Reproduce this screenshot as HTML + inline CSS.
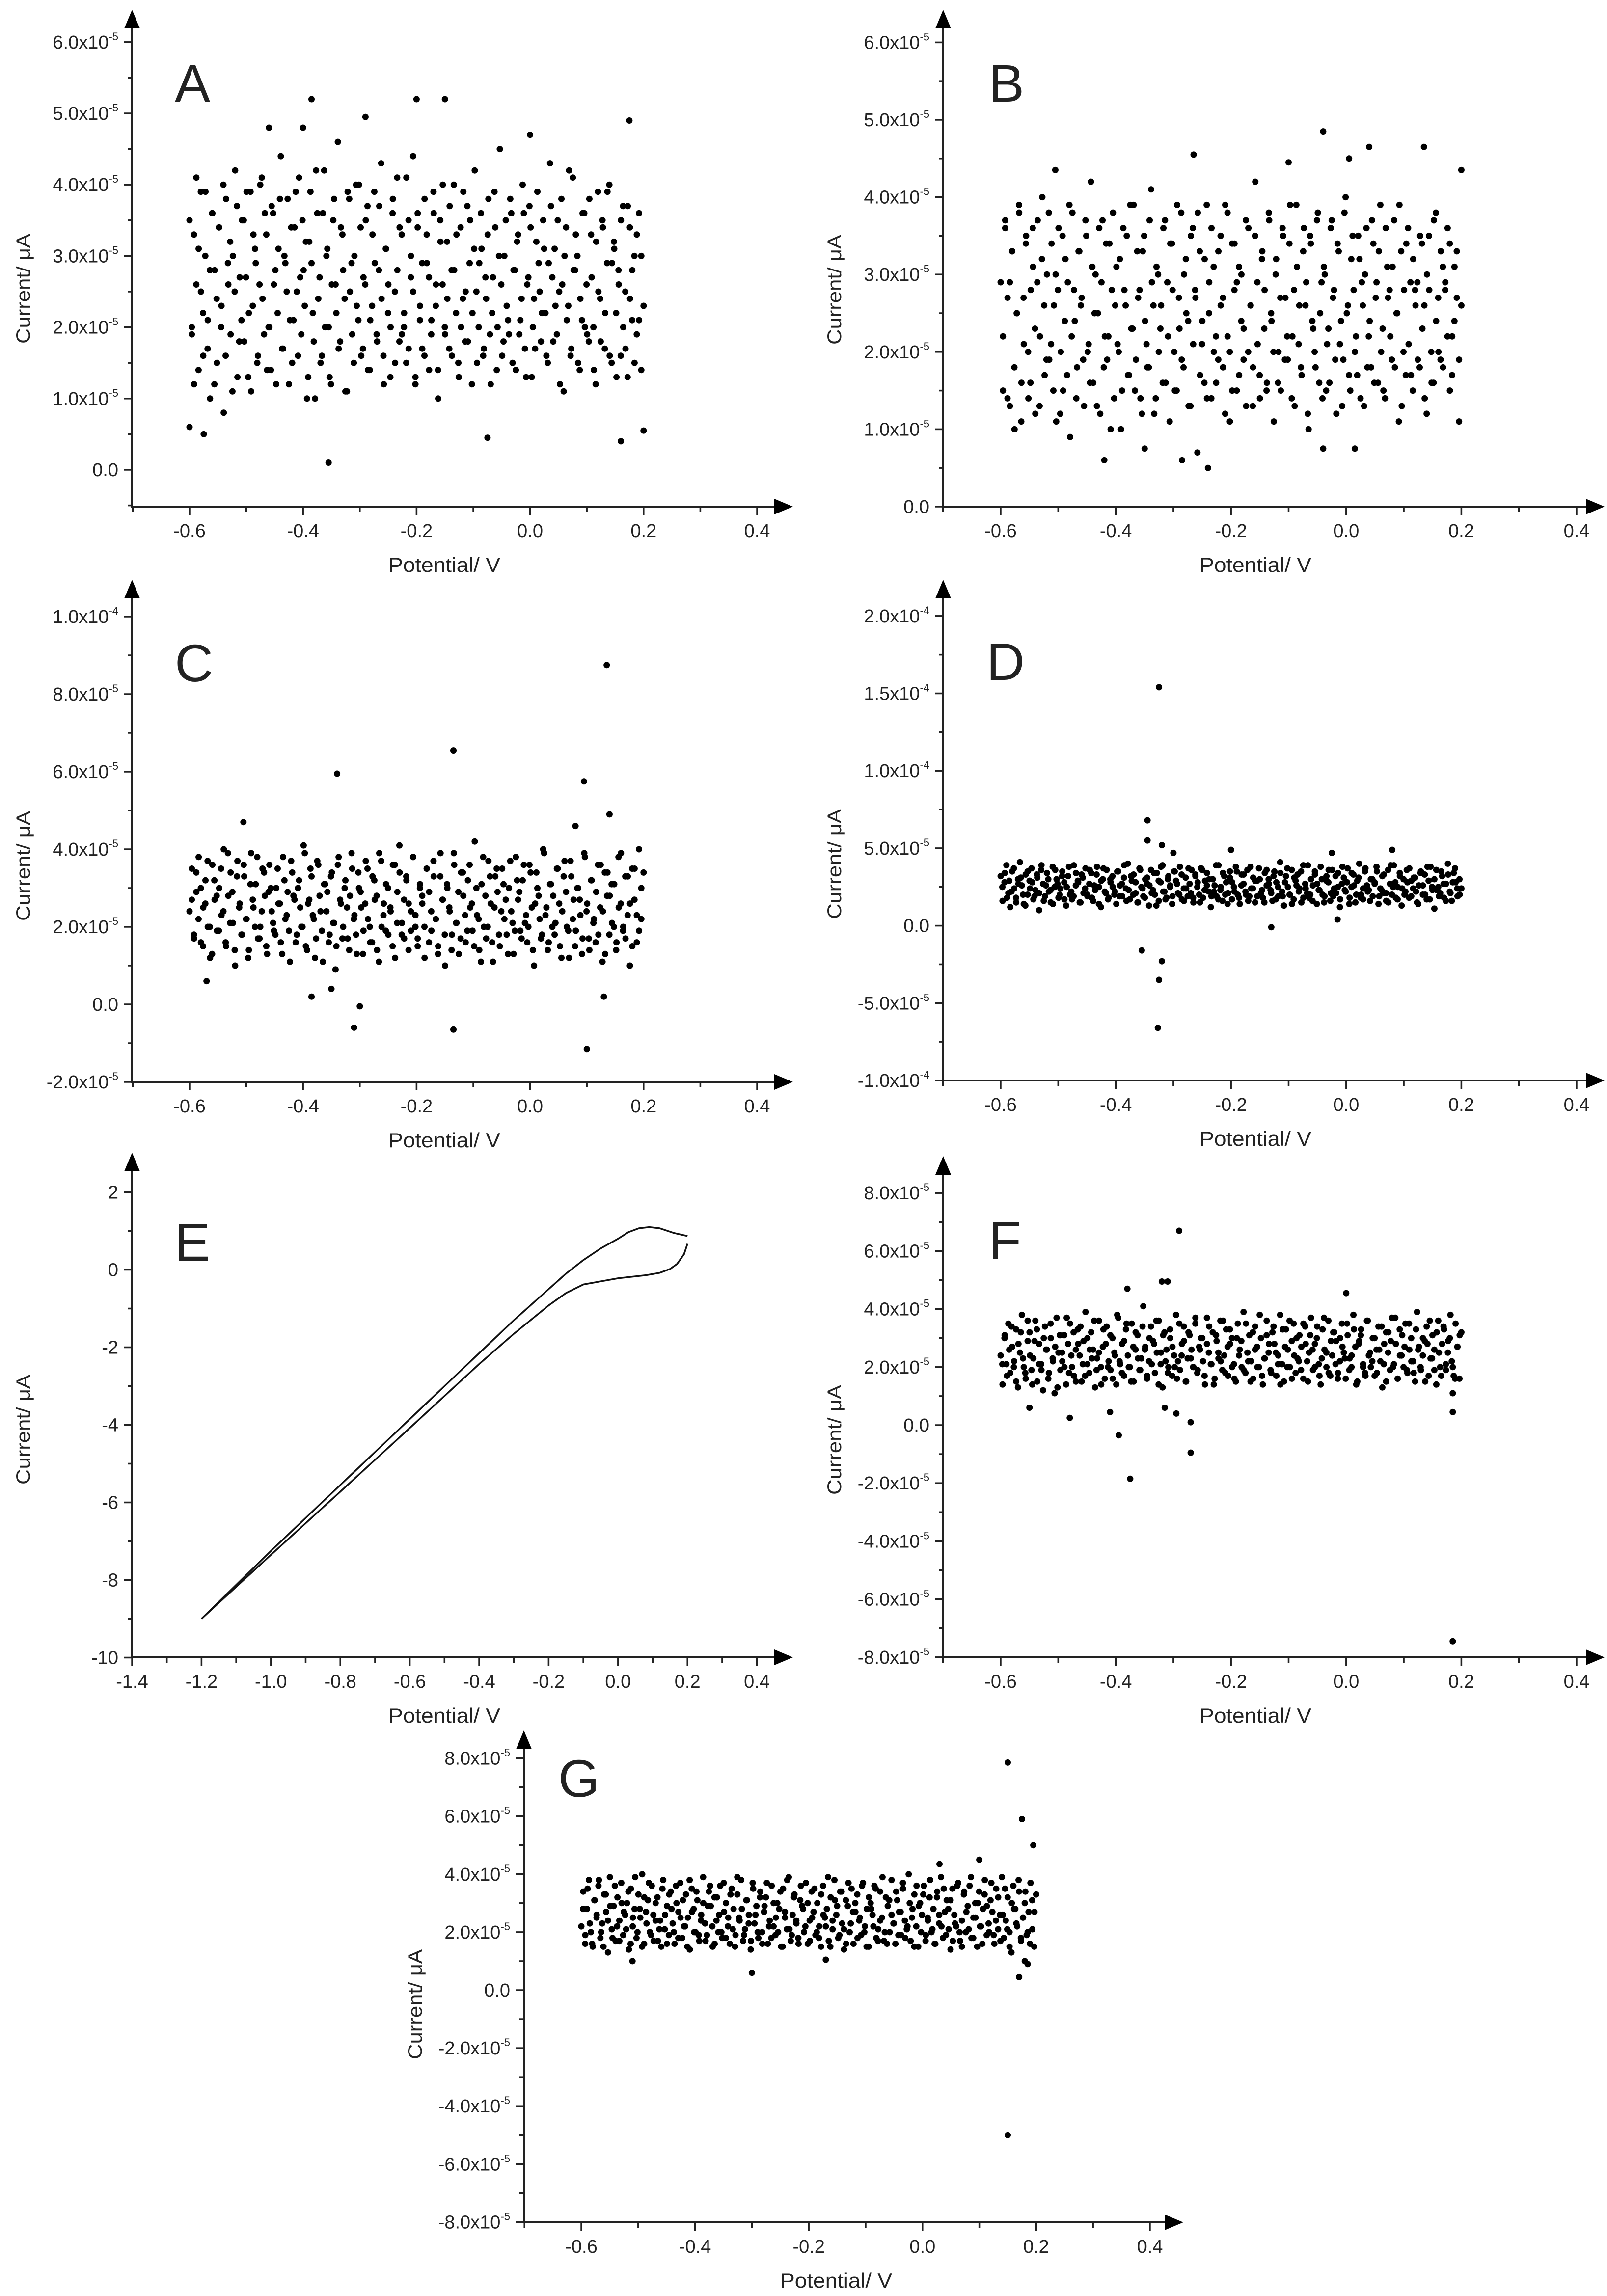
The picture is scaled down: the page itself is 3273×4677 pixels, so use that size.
<!DOCTYPE html>
<html><head><meta charset="utf-8"><title>Voltammetry panels A–G</title>
<style>
html,body{margin:0;padding:0;background:#fff;}
svg{display:block;}
text{font-family:"Liberation Sans",Arial,sans-serif;fill:#222;}
</style></head>
<body>
<svg id="fig" xmlns="http://www.w3.org/2000/svg" width="3273" height="4677" viewBox="0 0 3273 4677"></svg>
<script>
// ---------- DATA (current in units of 1e-5 µA, potential in V) ----------
const sweepA = [-0.6, 0.2];
const sweepA2 = [-0.596, 0.196];
const currentA = [3.5,2.0,1.2,4.1,3.1,2.5,1.6,3.9,2.1,1.0,3.6,2.8,1.5,3.4,2.3,0.8,3.8,2.6,1.9,3.0,
4.2,1.3,2.7,3.5,1.8,3.9,2.2,1.1,3.3,2.9,1.6,4.0,2.4,3.6,1.4,2.0,3.7,2.6,1.2,3.1,
4.4,1.7,2.9,3.8,2.1,1.5,3.4,2.5,4.1,1.9,2.8,3.2,1.3,3.9,2.2,1.0,3.6,2.7,1.6,4.2,
3.0,2.0,1.2,3.5,2.6,4.6,1.8,3.3,2.4,1.1,3.8,2.9,1.5,4.0,2.1,3.4,1.7,2.6,3.7,1.4,
2.3,3.9,1.9,2.8,4.3,1.6,3.1,2.2,1.3,3.6,2.5,4.1,1.8,3.3,2.0,1.5,3.5,2.7,4.4,1.2,
3.4,2.3,1.7,3.8,2.9,1.4,2.1,3.6,2.6,1.0,3.2,4.0,1.9,2.4,3.7,1.6,2.8,3.3,1.3,2.0,
3.9,2.5,1.8,3.5,2.2,4.2,1.5,2.9,3.1,1.7,2.4,3.8,1.2,2.7,3.4,2.0,4.5,1.6,3.0,2.3,
1.9,3.6,2.8,1.4,3.3,2.1,4.0,1.7,2.6,3.7,1.3,2.4,3.2,2.9,1.8,3.5,2.2,1.5,4.3,2.7,
3.1,1.9,2.5,3.8,1.1,3.4,2.3,1.6,4.1,2.8,3.0,1.4,2.1,3.6,2.6,1.8,3.3,2.0,1.2,3.9,
2.4,3.5,1.7,2.9,4.0,1.5,3.2,2.2,2.8,1.6,3.7,2.5,1.3,3.4,2.1,3.0,1.9,3.6,1.4,2.3];
const currentA2 = [1.9,3.3,2.6,1.4,3.9,2.2,3.0,1.7,2.8,3.6,1.2,2.4,3.4,2.0,4.0,1.6,2.9,3.2,1.1,2.5,
3.7,1.8,2.1,3.5,2.7,1.3,3.9,2.3,3.1,1.5,2.6,4.1,1.9,3.3,2.0,1.4,3.6,2.8,2.2,3.8,
1.7,3.0,2.5,1.2,3.4,2.1,3.9,1.6,2.7,3.5,2.3,1.0,3.2,2.9,1.8,4.2,2.4,1.5,3.6,2.0,
3.1,1.3,2.6,3.8,2.2,1.7,3.4,2.8,1.1,3.9,2.5,1.9,3.0,2.3,4.0,1.6,2.7,3.5,1.4,2.1,
3.3,2.9,1.8,3.7,2.4,1.2,3.1,2.6,2.0,3.8,1.5,2.8,3.4,1.9,2.2,4.1,1.7,3.0,2.5,1.3,
3.6,2.1,2.9,1.6,3.3,2.7,1.9,3.9,2.3,1.4,3.5,2.6,2.0,3.2,1.7,2.8,4.0,2.2,1.5,3.4,
2.4,1.8,3.7,2.9,1.2,3.1,2.5,2.0,3.6,1.6,2.7,3.3,1.9,2.2,3.9,1.4,3.0,2.6,1.8,3.5,
2.1,3.8,1.5,2.8,3.2,1.9,2.4,3.6,1.3,2.7,3.4,2.0,1.7,3.9,2.5,2.2,3.1,1.6,2.9,3.7,
1.8,2.3,3.5,1.2,2.6,3.0,2.1,4.2,1.7,2.8,3.3,1.5,2.4,3.6,2.0,1.9,3.8,2.7,1.4,3.2,
2.5,1.8,3.4,2.2,3.9,1.6,2.9,3.1,1.3,2.6,3.5,2.0,1.7,3.7,2.4,2.8,1.5,3.3,2.1,3.0];
const outlierXA = [-0.355,-0.385,-0.2,-0.15,0.175,-0.46,-0.4,-0.29,0.0,-0.575,-0.6,-0.075,0.16,0.2];
const outlierYA = [0.1,5.2,5.2,5.2,4.9,4.8,4.8,4.95,4.7,0.5,0.6,0.45,0.4,0.55];

const sweepB = [-0.6, 0.2];
const sweepB2 = [-0.596, 0.196];
const currentB = [2.9,1.5,3.6,2.7,1.3,3.3,1.0,2.5,3.8,1.6,2.1,3.5,1.4,2.8,3.1,1.2,3.7,2.2,4.0,1.7,
3.0,1.9,3.4,2.6,1.1,3.6,2.0,1.5,3.2,2.9,0.9,3.8,2.4,1.8,3.3,2.7,1.3,3.5,2.1,4.2,
1.6,3.0,2.5,1.2,3.7,2.2,1.9,3.4,2.8,1.4,3.1,2.0,1.0,3.6,2.6,1.7,3.9,2.3,1.5,3.3,
2.8,1.2,3.5,2.1,1.8,4.1,2.6,1.4,3.0,2.3,1.6,3.7,2.9,1.1,3.4,2.0,1.5,2.7,3.8,1.8,
3.2,2.4,1.3,3.6,2.8,0.7,3.3,2.1,1.6,3.9,2.5,1.4,3.1,2.2,1.9,3.5,2.7,1.2,3.8,2.0,
1.5,3.4,2.9,1.7,3.0,2.3,1.3,3.6,2.6,1.8,4.2,2.1,1.4,3.3,2.8,1.6,3.7,2.4,1.1,3.2,
2.0,1.5,3.5,2.7,1.9,3.9,2.2,1.3,3.1,2.6,1.7,3.6,2.9,1.0,3.4,2.3,1.8,3.8,2.5,1.4,
3.0,2.1,1.6,3.7,2.8,1.2,3.3,2.4,1.9,4.0,2.6,1.5,3.5,2.0,1.7,3.2,2.9,1.3,3.6,2.2,
1.8,3.4,2.7,1.6,3.9,2.3,1.4,3.1,2.8,1.9,3.7,2.5,1.1,3.3,2.0,1.7,3.6,2.9,1.5,2.8,
2.9,1.8,3.4,2.6,1.2,3.5,2.0,1.6,3.8,2.7,1.9,3.1,2.8,2.2,3.4,1.7,2.4,3.3,1.1,2.6];
const currentB2 = [2.2,3.7,1.4,2.9,3.3,1.8,2.5,3.9,1.1,2.7,3.4,2.0,1.6,3.6,2.3,2.9,1.3,3.2,2.6,1.9,
3.8,2.1,1.5,3.0,2.8,1.2,3.5,2.4,1.7,3.9,2.2,2.8,1.4,3.3,2.6,1.9,3.7,2.0,1.6,3.1,
2.5,1.3,3.6,2.9,1.8,3.4,2.2,1.0,3.8,2.6,2.1,3.2,1.5,2.8,3.5,1.7,2.3,3.9,1.9,2.7,
1.4,3.3,2.4,1.8,3.7,2.9,1.2,3.1,2.0,2.6,3.6,1.6,2.2,3.4,2.8,1.5,3.9,2.3,1.9,3.0,
2.5,1.3,3.5,2.1,2.7,3.8,1.7,2.4,3.2,1.4,2.9,3.6,2.0,1.6,3.3,2.6,1.8,3.9,2.2,1.1,
3.4,2.8,1.5,3.1,2.4,1.9,3.7,2.0,2.6,1.3,3.5,2.9,1.7,3.2,2.3,1.5,3.8,2.5,2.0,3.0,
1.6,2.7,3.6,1.9,2.2,3.4,1.4,2.8,3.9,2.1,1.8,3.3,2.6,1.2,3.5,2.4,2.0,3.7,1.6,2.9,
3.1,1.5,2.3,3.6,2.7,1.9,3.4,2.1,1.3,3.8,2.5,1.7,3.2,2.8,2.2,3.5,1.4,2.6,3.0,1.8,
2.4,3.7,1.6,2.9,3.3,2.0,1.5,3.6,2.7,2.2,3.1,1.8,2.5,3.9,1.3,2.8,3.4,2.1,1.7,3.2,
2.6,1.9,3.5,2.3,1.4,3.0,2.8,1.6,3.7,2.4,2.0,3.3,1.8,2.9,3.6,1.5,2.2,3.1,2.7,1.9];
const outlierXB = [-0.04,0.04,0.135,0.005,-0.265,-0.1,-0.505,0.2,-0.42,-0.285,-0.24,-0.04,0.015,-0.35];
const outlierYB = [4.85,4.65,4.65,4.5,4.55,4.45,4.35,4.35,0.6,0.6,0.5,0.75,0.75,0.75];

const sweepC = [-0.6, 0.2];
const sweepC2 = [-0.596, 0.196];
const currentC = [2.4,3.5,1.7,2.9,3.8,1.6,2.5,3.2,2.0,1.2,3.6,2.7,1.9,3.0,2.3,4.0,1.5,2.8,3.4,2.1,
1.0,3.7,2.6,1.8,3.3,2.2,1.4,3.9,2.5,3.1,1.7,2.0,3.5,2.8,1.3,3.6,2.4,1.9,3.0,2.6,
1.6,3.8,2.2,2.9,1.1,3.4,2.7,1.8,3.2,2.0,4.1,1.5,2.6,3.5,2.3,1.2,3.7,2.8,1.9,3.1,
2.4,1.6,3.3,2.1,0.9,3.6,2.7,1.7,3.0,2.5,1.4,3.9,2.2,1.8,3.4,2.9,1.3,2.6,3.5,2.0,
1.6,3.2,2.8,1.1,3.7,2.3,1.9,3.0,2.5,1.5,3.6,2.1,4.1,1.8,2.7,3.3,1.4,2.4,3.8,2.0,
1.7,3.1,2.6,1.2,3.5,2.9,1.9,3.3,2.2,1.5,3.9,2.7,1.0,3.0,2.4,1.8,3.6,2.1,1.3,3.4,
2.8,1.6,3.2,2.5,1.9,4.2,2.3,1.4,3.1,2.0,1.7,3.7,2.6,1.1,3.3,2.9,1.5,3.5,2.2,1.8,
3.0,2.4,1.3,3.8,2.7,1.9,3.2,2.1,1.6,3.6,2.5,1.0,3.4,2.8,1.7,4.0,2.3,1.4,3.1,2.0,
1.8,3.5,2.6,1.2,3.3,2.9,1.9,3.7,2.2,1.5,3.0,2.7,1.3,3.9,2.4,1.7,3.2,2.1,1.6,3.6,
2.5,1.1,3.4,2.8,1.8,3.1,2.0,1.4,3.8,2.6,1.9,3.3,2.3,1.0,3.5,2.7,1.6,4.0,2.2,3.4];
const currentC2 = [2.7,1.8,3.4,2.2,3.0,1.5,2.6,3.7,2.0,1.3,3.2,2.8,1.9,3.5,2.4,1.6,3.9,2.1,2.9,1.4,
3.3,2.5,1.8,3.6,2.2,1.2,3.1,2.7,2.0,3.8,1.7,2.4,3.4,1.5,2.9,3.0,2.1,1.8,3.5,2.6,
1.3,3.2,2.3,1.9,3.7,2.8,1.6,3.0,2.5,2.0,3.9,1.4,2.7,3.3,2.2,1.7,3.6,2.4,1.1,3.1,
2.9,1.8,3.4,2.1,1.5,3.8,2.6,2.0,3.2,1.7,2.8,3.5,2.3,1.3,3.0,2.5,1.9,3.7,2.2,1.6,
3.3,2.7,1.4,3.9,2.0,2.6,3.1,1.8,2.4,3.6,1.2,2.9,3.4,2.1,1.7,3.2,2.6,1.9,3.8,2.3,
1.5,3.0,2.8,2.0,3.5,1.6,2.4,3.7,2.2,1.3,3.3,2.7,1.8,3.1,2.5,1.4,3.9,2.1,2.9,1.7,
3.4,2.3,1.9,3.6,2.6,1.5,3.0,2.2,1.1,3.8,2.8,2.0,3.3,1.6,2.5,3.5,1.8,2.4,3.1,2.7,
1.3,3.7,2.1,1.9,3.2,2.9,1.7,3.6,2.3,2.0,3.4,1.4,2.6,3.0,2.2,1.8,3.9,2.5,1.6,3.1,
2.8,2.1,3.5,1.5,2.4,3.7,2.0,1.2,3.3,2.7,1.9,3.0,2.3,1.7,3.8,2.6,1.4,3.2,2.2,2.9,
1.8,3.6,2.4,1.3,3.4,2.8,2.1,3.1,1.6,2.5,3.9,2.0,1.7,3.3,2.6,1.5,3.5,2.3,1.9,3.0];
const outlierXC = [0.135,-0.135,-0.34,0.095,0.14,-0.31,-0.135,0.1,-0.3,-0.385,0.13,-0.505,-0.57,-0.35,0.08];
const outlierYC = [8.75,6.55,5.95,5.75,4.9,-0.6,-0.65,-1.15,-0.05,0.2,0.2,4.7,0.6,0.4,4.6];

const sweepD = [-0.6, 0.2];
const sweepD2 = [-0.597, 0.197];
const currentD = [3.2,1.6,2.8,3.9,2.1,1.2,3.5,2.4,1.8,3.0,4.1,2.6,1.4,3.3,2.0,2.9,3.7,1.7,2.3,3.1,
1.0,3.6,2.7,1.9,3.4,2.2,1.5,3.8,2.5,3.0,1.8,2.4,3.5,2.8,1.3,3.2,2.0,1.7,3.9,2.6,
2.9,1.5,3.3,2.1,3.7,1.9,2.7,3.4,1.6,2.3,3.8,2.5,1.2,3.0,2.2,3.6,1.8,2.8,3.2,2.0,
1.4,3.5,2.6,1.9,3.1,2.4,4.0,1.7,2.9,3.3,2.1,1.5,3.7,2.5,1.9,3.0,2.7,1.3,3.6,2.3,
2.0,3.4,1.6,2.8,3.9,2.2,1.8,3.2,2.6,1.4,3.5,2.9,2.1,3.8,1.7,2.4,3.1,1.9,2.7,3.6,
1.5,3.3,2.5,2.0,3.7,1.8,2.9,3.4,2.2,1.2,3.0,2.6,1.9,3.9,2.3,1.6,3.2,2.8,2.1,3.5,
1.7,2.5,3.8,2.0,1.4,3.3,2.7,2.2,3.6,1.9,2.4,3.1,1.5,2.9,3.7,2.1,1.8,3.4,2.6,3.0,
2.3,1.6,3.5,2.8,1.9,4.1,2.2,1.3,3.2,2.5,2.0,3.6,1.7,2.9,3.3,2.4,1.5,3.9,2.7,2.1,
1.8,3.0,2.6,3.5,1.4,2.3,3.8,2.0,1.9,3.2,2.8,1.6,3.6,2.4,2.1,3.4,1.2,2.7,3.1,2.2,
3.7,1.8,2.5,3.3,1.5,2.9,4.0,2.0,1.7,3.5,2.6,2.3,3.0,1.9,2.8,3.8,1.4,2.4,3.2,2.1,
1.6,3.6,2.7,2.0,3.9,1.8,2.5,3.4,1.3,3.0,2.2,2.8,3.7,1.9,2.4,3.1,1.5,2.6,3.5,2.0,
3.3,1.7,2.9,3.8,2.3,1.1,3.6,2.5,2.1,3.2,1.8,2.7,4.0,2.2,1.6,3.4,2.8,1.9,3.0,2.4];
const currentD2 = [2.5,3.4,1.8,2.9,2.2,3.7,1.5,2.7,3.1,2.0,1.3,3.5,2.4,2.8,1.9,3.3,2.1,3.9,1.6,2.6,
3.0,2.3,1.4,3.6,2.7,2.0,3.2,1.7,2.5,3.8,2.2,1.9,3.4,2.8,1.5,3.1,2.4,2.0,3.6,1.8,
2.6,3.3,1.4,2.9,3.7,2.1,1.7,3.0,2.5,2.2,3.5,1.9,2.7,3.9,1.6,2.3,3.2,2.0,2.8,1.5,
3.6,2.4,1.8,3.1,2.6,2.1,3.4,1.3,2.9,3.8,2.2,1.7,3.0,2.5,1.9,3.5,2.7,2.0,3.3,1.6,
2.4,3.7,2.1,1.8,3.2,2.8,1.5,3.6,2.3,2.6,3.0,1.9,2.2,3.9,1.7,2.5,3.4,2.0,1.4,3.1,
2.8,2.2,3.5,1.8,2.6,3.3,2.0,1.6,3.8,2.4,2.9,1.9,3.0,2.3,1.5,3.6,2.7,2.1,3.2,1.7,
2.5,3.4,1.9,2.8,3.7,2.0,1.4,3.1,2.6,2.2,3.5,1.8,2.4,3.9,2.0,1.6,3.3,2.7,2.3,3.0,
1.5,2.9,3.6,2.1,1.9,3.2,2.5,1.7,3.8,2.3,2.8,1.4,3.4,2.6,2.0,3.1,1.8,2.4,3.7,2.2,
1.6,3.0,2.7,3.5,1.9,2.3,3.3,2.1,1.5,3.9,2.5,2.8,1.7,3.2,2.4,2.0,3.6,1.8,2.9,3.1,
2.2,1.4,3.4,2.6,2.0,3.8,1.7,2.5,3.0,2.3,1.9,3.5,2.7,1.6,3.3,2.1,2.8,3.7,2.4,2.0];
const outlierXD = [-0.325,-0.345,-0.345,-0.32,-0.355,-0.32,-0.325,-0.327,-0.13,-0.3,-0.2,-0.025,0.08,-0.015];
const outlierYD = [15.4,6.8,5.5,5.2,-1.6,-2.3,-3.5,-6.6,-0.1,4.7,4.9,4.7,4.9,0.4];

const potentialE_fwd = [-1.2,-1.0,-0.8,-0.6,-0.4,-0.3,-0.2,-0.15,-0.1,-0.05,0.0,0.03,0.06,0.09,0.12,0.16,0.2];
const currentE_fwd   = [-9.0,-7.25,-5.55,-3.85,-2.15,-1.3,-0.5,-0.1,0.25,0.55,0.8,0.97,1.07,1.1,1.07,0.95,0.87];
const potentialE_rev = [0.2,0.19,0.17,0.15,0.12,0.08,0.0,-0.05,-0.1,-0.15,-0.2,-0.3,-0.4,-0.6,-0.8,-1.0,-1.2];
const currentE_rev   = [0.67,0.4,0.15,0.02,-0.08,-0.14,-0.22,-0.3,-0.38,-0.6,-0.92,-1.65,-2.43,-4.08,-5.72,-7.35,-9.0];

const sweepF = [-0.6, 0.2];
const sweepF2 = [-0.597, 0.197];
const currentF = [2.4,1.4,3.0,2.1,3.5,1.8,2.7,2.2,3.3,1.3,2.5,3.8,2.0,1.6,2.9,3.2,1.9,2.3,3.6,1.5,
2.8,2.1,1.2,3.4,2.6,1.8,3.0,2.3,1.1,3.7,2.5,1.9,2.2,3.1,1.4,2.8,3.5,2.0,1.7,2.6,
3.3,2.4,1.5,2.9,3.9,2.1,1.8,3.2,2.6,1.3,2.3,3.6,2.0,2.7,1.6,3.4,2.2,1.9,3.0,2.5,
1.4,3.7,2.1,2.8,1.7,3.3,2.4,2.0,3.5,1.5,2.6,3.1,1.9,2.3,4.1,2.7,1.6,2.2,3.4,2.9,
1.8,2.5,3.6,2.1,1.3,3.2,2.6,2.0,3.0,1.7,2.4,3.8,2.2,1.9,2.8,3.4,1.5,2.3,3.1,2.6,
2.0,3.5,1.8,2.7,3.0,2.2,1.4,3.7,2.5,2.1,3.2,1.6,2.9,2.3,3.6,1.9,2.4,3.3,1.7,2.8,
3.0,2.1,1.5,3.5,2.6,2.0,3.9,1.8,2.5,3.1,2.2,1.6,3.4,2.7,2.0,3.0,1.4,2.3,3.6,2.5,
1.9,3.2,2.8,1.7,2.4,3.8,2.1,1.5,3.3,2.6,2.0,2.9,3.5,1.8,2.3,3.1,2.7,1.6,3.4,2.2,
2.5,3.7,1.9,2.8,3.0,2.1,1.4,3.3,2.6,2.0,3.6,1.7,2.4,3.2,2.9,1.8,2.2,3.5,2.5,1.6,
3.1,2.3,2.0,3.8,2.7,1.5,2.9,3.3,2.1,1.8,3.6,2.4,2.0,3.0,1.7,2.6,3.4,2.2,1.3,2.8,
3.2,2.5,1.9,3.7,2.1,2.8,1.6,3.3,2.4,2.0,3.5,1.8,2.6,3.0,2.2,1.5,3.9,2.7,1.9,2.4,
2.9,3.4,1.7,2.3,3.1,2.6,1.4,3.6,2.0,2.8,3.3,1.9,2.5,3.0,2.2,1.7,3.5,2.7,1.6,3.2];
const currentF2 = [2.1,3.1,1.7,2.6,3.4,2.0,1.5,2.8,3.2,2.3,1.8,3.6,2.4,1.4,2.9,3.3,2.1,1.9,3.0,2.6,
1.6,3.5,2.2,2.7,1.3,3.1,2.5,2.0,3.7,1.8,2.4,3.2,1.5,2.8,3.4,2.1,1.7,3.0,2.6,2.3,
3.6,1.9,2.5,1.4,3.3,2.8,2.0,3.1,1.6,2.4,3.8,2.2,1.8,2.9,3.5,2.0,1.5,2.7,3.2,2.3,
1.9,3.4,2.6,1.7,3.0,2.1,2.8,3.6,1.4,2.5,3.1,2.2,1.8,3.3,2.7,2.0,1.6,3.5,2.4,2.9,
1.5,3.2,2.3,2.0,3.7,1.9,2.6,3.0,1.7,2.8,3.4,2.1,1.4,3.1,2.5,2.2,3.6,1.8,2.7,3.3,
2.0,1.6,3.0,2.4,2.9,1.9,3.5,2.2,1.5,3.2,2.6,2.0,3.8,1.7,2.3,3.1,2.8,1.8,3.4,2.5,
2.1,1.4,3.3,2.7,2.0,3.6,1.6,2.4,3.0,2.2,1.9,3.5,2.8,1.5,3.1,2.6,2.0,3.4,1.7,2.3,
3.7,2.5,1.8,2.9,3.2,2.1,1.6,3.0,2.7,2.3,3.5,1.9,2.4,3.3,1.4,2.8,3.1,2.0,1.7,3.6,
2.5,2.2,3.0,1.8,2.6,3.4,2.1,1.5,3.2,2.9,2.0,3.7,1.6,2.4,3.1,2.7,1.9,3.5,2.2,1.8,
3.3,2.6,2.0,3.0,1.5,2.8,3.6,2.3,1.9,3.2,2.5,1.7,3.4,2.1,2.9,3.8,2.0,1.6,2.7,3.1];
const outlierXF = [-0.29,-0.32,-0.31,-0.375,-0.27,-0.395,0.185,0.185,-0.41,-0.48,-0.315,-0.295,-0.27,-0.38,0.0,-0.55,0.185];
const outlierYF = [6.7,4.95,4.95,-1.85,-0.95,-0.35,-7.45,0.45,0.45,0.25,0.6,0.4,0.1,4.7,4.55,0.6,1.1];

const sweepG = [-0.6, 0.2];
const sweepG2 = [-0.597, 0.197];
const currentG = [2.2,3.4,1.6,2.8,3.8,2.0,1.5,3.1,2.5,3.6,1.8,2.3,3.3,2.7,1.3,3.9,2.1,2.9,1.7,3.2,
2.4,3.7,1.9,2.6,3.0,1.4,3.5,2.2,2.8,1.8,3.3,2.5,4.0,1.6,2.7,3.1,2.0,3.6,1.7,2.4,
3.2,2.1,1.5,3.8,2.6,2.9,1.9,3.4,2.3,1.6,3.0,2.7,3.7,1.8,2.2,3.3,2.5,1.4,3.5,2.8,
2.0,3.1,1.7,2.6,3.9,2.3,1.9,3.4,2.9,1.5,3.2,2.4,2.0,3.6,1.8,2.7,3.0,2.2,1.6,3.5,
2.8,1.9,3.3,2.5,3.8,1.7,2.1,3.1,2.6,1.4,3.7,2.3,2.9,1.8,3.4,2.0,2.7,3.2,1.6,2.4,
3.6,2.2,1.9,3.0,2.8,1.5,3.5,2.5,2.1,3.9,1.7,2.6,3.3,2.3,1.8,3.1,2.9,2.0,3.7,1.6,
2.4,3.4,2.7,1.9,3.0,2.2,1.5,3.6,2.5,2.8,1.7,3.2,2.1,3.8,2.6,1.8,3.4,2.3,1.4,3.1,
2.9,2.0,3.5,1.6,2.7,3.3,2.4,1.9,3.7,2.2,2.8,1.5,3.0,2.6,3.6,1.8,2.1,3.4,2.5,1.7,
3.2,2.9,2.0,3.8,2.3,1.6,3.1,2.7,1.9,3.5,2.4,2.1,4.0,1.7,2.8,3.3,2.2,1.5,3.0,2.6,
3.6,1.9,2.5,3.2,2.0,2.8,1.6,3.4,2.3,3.9,1.8,2.7,3.1,2.1,1.4,3.5,2.6,2.2,3.7,1.7,
2.4,3.3,2.0,2.9,3.6,1.8,2.5,3.0,1.5,3.4,2.2,2.8,3.8,1.9,2.3,3.1,2.7,1.6,3.5,2.1,
2.6,3.9,1.8,2.4,3.2,2.0,1.3,3.6,2.8,2.2,3.4,1.7,2.5,3.0,1.9,2.7,3.7,2.1,1.5,3.3];
const currentG2 = [2.8,1.9,3.5,2.3,1.6,3.1,2.6,3.8,2.0,1.5,3.3,2.4,2.9,1.8,3.6,2.2,1.7,3.0,2.7,2.1,
3.4,1.6,2.5,3.9,2.0,2.8,1.5,3.2,2.3,3.7,1.9,2.6,3.0,1.7,2.4,3.5,2.1,1.6,3.3,2.8,
2.0,3.6,1.8,2.5,3.1,2.2,1.5,3.8,2.7,2.0,3.4,1.9,2.4,3.0,1.7,2.9,3.6,2.2,1.6,3.2,
2.6,2.0,3.7,1.8,2.5,3.3,2.1,1.5,3.9,2.4,2.8,1.9,3.1,2.3,1.7,3.5,2.6,2.0,3.2,1.6,
2.9,3.7,2.2,1.8,3.0,2.5,2.0,3.4,1.5,2.7,3.8,2.1,1.9,3.2,2.4,1.6,3.6,2.8,2.2,3.0,
1.7,2.5,3.5,2.0,1.8,3.3,2.6,2.2,3.9,1.5,2.4,3.1,2.9,1.9,3.4,2.1,1.6,3.7,2.3,2.7,
3.0,1.8,2.5,3.6,2.0,1.5,3.2,2.8,2.2,3.5,1.7,2.4,3.9,2.0,1.6,3.1,2.6,2.3,3.4,1.9,
2.7,3.7,1.8,2.2,3.0,2.5,1.5,3.6,2.9,2.0,3.3,1.7,2.4,3.8,2.1,1.6,3.2,2.6,2.2,3.5,
1.9,2.8,3.1,1.7,2.3,3.6,2.0,1.5,3.4,2.7,2.1,3.9,1.8,2.5,3.0,2.2,1.6,3.3,2.9,2.0,
3.7,1.9,2.4,3.2,1.7,2.6,3.5,2.1,1.5,3.0,2.8,2.3,3.8,1.8,2.5,3.4,2.0,1.6,3.1,2.7];
const outlierXG = [0.15,0.175,0.195,0.15,-0.3,0.17,0.1,0.03,0.18,0.185,-0.51,-0.17];
const outlierYG = [7.85,5.9,5.0,-5.0,0.6,0.45,4.5,4.35,1.0,0.9,1.0,1.05];

const xTicksScatter = [-0.6,-0.4,-0.2,0.0,0.2,0.4];
const xTicksE = [-1.4,-1.2,-1.0,-0.8,-0.6,-0.4,-0.2,0.0,0.2,0.4];
const yTicksA = [0,1,2,3,4,5,6];
const yTicksB = [0,1,2,3,4,5,6];
const yTicksC = [-2,0,2,4,6,8,10];
const yTicksD = [-10,-5,0,5,10,15,20];
const yTicksE = [-10,-8,-6,-4,-2,0,2];
const yTicksF = [-8,-6,-4,-2,0,2,4,6,8];
const yTicksG = [-8,-6,-4,-2,0,2,4,6,8];

// ---------- RENDERING ----------
const NS = 'http://www.w3.org/2000/svg';
const svg = document.getElementById('fig');
function mk(tag, attrs, parent){
  const e = document.createElementNS(NS, tag);
  for (const k in attrs) e.setAttribute(k, attrs[k]);
  (parent||svg).appendChild(e);
  return e;
}
function sci(u, mult){
  const v = u*mult;
  if (Math.abs(v) < 1e-15) return ['0.0',''];
  const e = Math.floor(Math.log10(Math.abs(v))+1e-9);
  const m = v/Math.pow(10,e);
  return [m.toFixed(1)+'x10', String(e)];
}

const panels = [
 {id:'a', letter:'A', ax:269, ay:1032, px0:386, pxs:1156, xv0:-0.6, yz:957, ys:145.2, ymin:-0.52, top:20, right:1615, xmin:-0.7, minorY:0.5, sci:true, lx:356, ly:207, ty:588},
 {id:'b', letter:'B', ax:1921, ay:1032, px0:2038, pxs:1173, xv0:-0.6, yz:1032, ys:157.6, ymin:0, top:20, right:3268, xmin:-0.7, minorY:0.5, sci:true, lx:2014, ly:207, ty:590},
 {id:'c', letter:'C', ax:269, ay:2204, px0:386, pxs:1156, xv0:-0.6, yz:2046, ys:79, ymin:-2, top:1181, right:1615, xmin:-0.7, minorY:1, sci:true, lx:356, ly:1388, ty:1764},
 {id:'d', letter:'D', ax:1921, ay:2201, px0:2038, pxs:1173, xv0:-0.6, yz:1885.6, ys:31.54, ymin:-10, top:1181, right:3268, xmin:-0.7, minorY:2.5, sci:true, lx:2009, ly:1385, ty:1760},
 {id:'e', letter:'E', ax:269, ay:3376, px0:269, pxs:707, xv0:-1.4, yz:2586.5, ys:79, ymin:-10, top:2348, right:1615, xmin:-1.4, minorY:1, sci:false, lx:356, ly:2568, ty:2912},
 {id:'f', letter:'F', ax:1921, ay:3376, px0:2038, pxs:1173, xv0:-0.6, yz:2903, ys:59.1, ymin:-8, top:2355, right:3268, xmin:-0.7, minorY:1, sci:true, lx:2014, ly:2564, ty:2933},
 {id:'g', letter:'G', ax:1067, ay:4527, px0:1184, pxs:1158, xv0:-0.6, yz:4054, ys:59.06, ymin:-8, top:3525, right:2410, xmin:-0.7, minorY:1, sci:true, lx:1137, ly:3660, ty:4083}
];
const yTicksAll = {a:yTicksA,b:yTicksB,c:yTicksC,d:yTicksD,e:yTicksE,f:yTicksF,g:yTicksG};
const scatterData = {
  a:[[sweepA,currentA],[sweepA2,currentA2],outlierXA,outlierYA],
  b:[[sweepB,currentB],[sweepB2,currentB2],outlierXB,outlierYB],
  c:[[sweepC,currentC],[sweepC2,currentC2],outlierXC,outlierYC],
  d:[[sweepD,currentD],[sweepD2,currentD2],outlierXD,outlierYD],
  f:[[sweepF,currentF],[sweepF2,currentF2],outlierXF,outlierYF],
  g:[[sweepG,currentG],[sweepG2,currentG2],outlierXG,outlierYG]
};

panels.forEach(function(p){
  const g = mk('g', {});
  
  
  const xpx = v => p.id==='e' ? p.px0 + (v - p.xv0) * p.pxs : p.px0 + (v - p.xv0) * p.pxs;
  const ypx = u => p.yz - u * p.ys;

  const xa = mk('line', {x1:p.ax, y1:p.ay, x2:p.right-30, y2:p.ay, stroke:'#222', 'stroke-width':4}, g);
  
  
  const ya = mk('line', {x1:p.ax, y1:p.ay+2, x2:p.ax, y2:p.top+30, stroke:'#222', 'stroke-width':4}, g);
  
  
  const ah1 = mk('polygon', {points:(p.right)+','+p.ay+' '+(p.right-38)+','+(p.ay-16)+' '+(p.right-38)+','+(p.ay+16), fill:'#000'}, g);
  
  
  const ah2 = mk('polygon', {points:p.ax+','+p.top+' '+(p.ax-16)+','+(p.top+38)+' '+(p.ax+16)+','+(p.top+38), fill:'#000'}, g);
  
  

  const majors = p.id==='e' ? xTicksE : xTicksScatter;
  for (let k = 0; ; k++){
    const v = p.xmin + k*0.1;
    if (v > 0.41) break;
    const isMaj = majors.some(m => Math.abs(m - v) < 1e-6);
    const x = xpx(v);
    mk('line', {x1:x, y1:p.ay, x2:x, y2:p.ay + (isMaj?17:11), stroke:'#222', 'stroke-width':3.5}, g);
  }
  majors.forEach(function(v){
    const t = mk('text', {x:xpx(v), y:p.ay+62, 'font-size':38, 'text-anchor':'middle'}, g);
    t.textContent = v.toFixed(1);
    
    
  });

  const yt = yTicksAll[p.id];
  const ytop = yt[yt.length-1];
  for (let u = p.minorY*Math.ceil(p.ymin/p.minorY - 1e-9); u <= ytop + 1e-9; u += p.minorY){
    const isMaj = yt.some(m => Math.abs(m - u) < 1e-6);
    const y = ypx(u);
    mk('line', {x1:p.ax - (isMaj?16:9), y1:y, x2:p.ax, y2:y, stroke:'#222', 'stroke-width':3.5}, g);
  }
  yt.forEach(function(u){
    const y = ypx(u);
    const t = mk('text', {x:p.ax-28, y:y+13, 'font-size':38, 'text-anchor':'end'}, g);
    
    
    if (p.sci){
      const s = sci(u, 1e-5);
      t.appendChild(document.createTextNode(s[0]));
      if (s[1]){
        const sp = mk('tspan', {dy:-17, 'font-size':22}, t);
        sp.textContent = s[1];
      }
    } else {
      t.textContent = String(u);
    }
  });

  const xt = mk('text', {x:p.ax+636, y:p.ay+133, 'font-size':42, 'text-anchor':'middle', textLength:228, lengthAdjust:'spacingAndGlyphs'}, g);
  xt.textContent = 'Potential/ V';
  
  
  const tx = p.ax - 208;
  const ytl = mk('text', {x:tx, y:p.ty, 'font-size':40, 'text-anchor':'middle', transform:'rotate(-90 '+tx+' '+p.ty+')', textLength:224, lengthAdjust:'spacingAndGlyphs'}, g);
  ytl.textContent = 'Current/ \u03bcA';
  
  

  const L = mk('text', {x:p.lx, y:p.ly, 'font-size':108, fill:'#111'}, g);
  L.textContent = p.letter;
  
  

  if (p.id === 'e'){
    const fw = potentialE_fwd.map((v,i) => xpx(v).toFixed(1)+','+ypx(currentE_fwd[i]).toFixed(1)).join(' ');
    const rv = potentialE_rev.map((v,i) => xpx(v).toFixed(1)+','+ypx(currentE_rev[i]).toFixed(1)).join(' ');
    const l1 = mk('polyline', {points:fw, fill:'none', stroke:'#111', 'stroke-width':3.5, 'stroke-linejoin':'round'}, g);
    
    
    const l2 = mk('polyline', {points:rv, fill:'none', stroke:'#111', 'stroke-width':3.5, 'stroke-linejoin':'round'}, g);
    
    
  } else {
    const d = scatterData[p.id];
    const pg = mk('g', {fill:'#000'}, g);
    
    
    [d[0], d[1]].forEach(function(scan){
      const sw = scan[0], ys = scan[1], n = ys.length;
      ys.forEach(function(u, i){
        const v = sw[0] + (sw[1]-sw[0]) * i / (n-1);
        const c = mk('circle', {cx:xpx(v).toFixed(1), cy:ypx(u).toFixed(1), r:6.5}, pg);
        
        
      });
    });
    d[2].forEach(function(v, i){
      const c = mk('circle', {cx:xpx(v).toFixed(1), cy:ypx(d[3][i]).toFixed(1), r:6.5}, pg);
      
      
    });
  }
});
</script>
</body></html>
